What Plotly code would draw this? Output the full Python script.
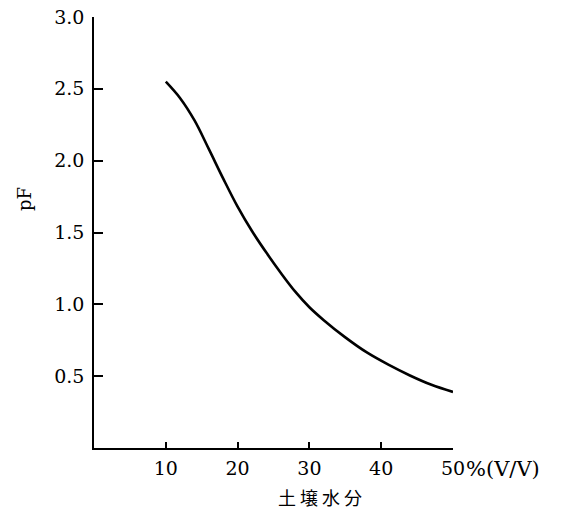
import plotly.graph_objects as go

# Data
moisture = [10, 12, 14, 16, 18, 20, 22, 24, 26, 28, 30, 32, 35, 38, 41, 44, 47, 50]
pf_values = [2.55, 2.435, 2.28, 2.08, 1.875, 1.68, 1.51, 1.36, 1.22, 1.09, 0.98,
             0.89, 0.77, 0.665, 0.58, 0.505, 0.44, 0.39]
x_ticks = [10, 20, 30, 40, 50]
x_tick_labels = ["10", "20", "30", "40", "50"]
y_ticks = [0.5, 1.0, 1.5, 2.0, 2.5, 3.0]
y_tick_labels = ["0.5", "1.0", "1.5", "2.0", "2.5", "3.0"]

serif = "DejaVu Serif, Liberation Serif, serif"

fig = go.Figure()
fig.add_trace(go.Scatter(
    x=moisture, y=pf_values, mode="lines",
    line=dict(color="black", width=2.6, shape="spline", smoothing=1.0),
    showlegend=False, hoverinfo="skip",
))

fig.update_layout(
    width=564, height=513,
    margin=dict(l=94, r=111, t=17, b=65, pad=0),
    paper_bgcolor="white", plot_bgcolor="white",
    font=dict(family=serif, color="black", size=20),
    xaxis=dict(
        range=[0, 50], tickvals=x_ticks, ticktext=x_tick_labels,
        showline=True, linecolor="black", linewidth=1.5,
        ticks="inside", ticklen=6, tickwidth=1.5, tickcolor="black",
        showgrid=False, zeroline=False, ticklabelstandoff=2, automargin=False,
        ticklabeloverflow="allow",
        tickfont=dict(family=serif, size=19, color="black"),
    ),
    yaxis=dict(
        range=[0, 3.0], tickvals=y_ticks, ticktext=y_tick_labels,
        showline=True, linecolor="black", linewidth=1.5,
        ticks="inside", ticklen=9, tickwidth=1.5, tickcolor="black",
        showgrid=False, zeroline=False, ticklabelstandoff=4, automargin=False,
        ticklabeloverflow="allow",
        tickfont=dict(family=serif, size=19, color="black"),
    ),
    annotations=[
        dict(text="%(V/V)", xref="paper", yref="paper",
             x=(464 - 94) / 359, y=(448 - 469) / 431,
             xanchor="left", yanchor="middle", showarrow=False,
             font=dict(family=serif, size=21, color="black")),
        dict(text="土 壌 水 分", xref="paper", yref="paper",
             x=(320 - 94) / 359, y=(448 - 497) / 431,
             xanchor="center", yanchor="middle", showarrow=False,
             font=dict(family="Noto Sans CJK JP", size=18, color="black")),
        dict(text="pF", xref="paper", yref="paper",
             x=(25 - 94) / 359, y=(448 - 199) / 431,
             xanchor="center", yanchor="middle", showarrow=False, textangle=-90,
             font=dict(family=serif, size=18, color="black")),
    ],
)

fig.write_html(
    "out.html",
    config={"displayModeBar": False},
    post_script="document.body.style.margin='0';document.body.style.overflow='hidden';",
)
